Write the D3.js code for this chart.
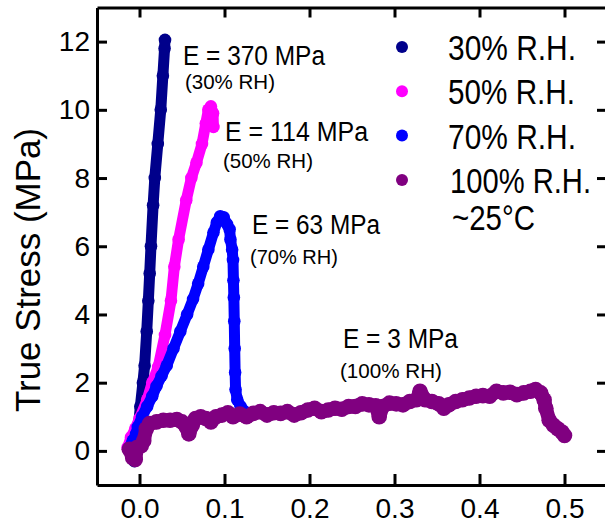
<!DOCTYPE html>
<html>
<head>
<meta charset="utf-8">
<script src="https://cdn.jsdelivr.net/npm/d3@7"></script>
<style>
body { margin: 0; background: #fff; }
text { font-family: "Liberation Sans", Arial, sans-serif; fill: #000; }
</style>
</head>
<body>
<div id="chart"></div>
<script>
// series names and colours
var series = ["30% R.H.", "50% R.H.", "70% R.H.", "100% R.H."];
var colors = ["#00008b", "#ff00ff", "#0000ff", "#800080"];

// true strain, true stress (MPa)
var rh30 = [[-0.006, -0.3], [-0.004, 0.2], [-0.001, 0.8], [0.001, 1.3], [0.004, 2.0], [0.006, 2.5],
    [0.0085, 3.5], [0.0104, 4.4], [0.012, 5.2], [0.0135, 6.0], [0.016, 7.2], [0.018, 8.0],
    [0.0215, 9.0], [0.025, 10.0], [0.0275, 11.0], [0.0295, 11.8], [0.030, 12.05]];

var rh50 = [[-0.014, 0.1], [-0.01, 0.4], [-0.005, 0.65], [0.0, 0.95], [0.009, 1.5], [0.015, 2.0],
    [0.022, 2.46], [0.030, 3.4], [0.037, 4.4], [0.041, 5.4], [0.046, 6.2], [0.055, 7.35],
    [0.061, 8.0], [0.067, 8.45], [0.0735, 9.0], [0.078, 9.6], [0.081, 10.0], [0.084, 10.1],
    [0.0865, 9.9], [0.087, 9.5]];

var rh70 = [[-0.012, 0.1], [-0.008, 0.3], [-0.004, 0.5], [-0.002, 0.7], [0.003, 1.0], [0.009, 1.3],
    [0.015, 1.6], [0.020, 1.9], [0.026, 2.2], [0.032, 2.5], [0.040, 3.0], [0.048, 3.5],
    [0.056, 4.0], [0.063, 4.45], [0.069, 4.9], [0.075, 5.4], [0.081, 5.9], [0.087, 6.4],
    [0.091, 6.7], [0.095, 6.88], [0.099, 6.85], [0.103, 6.65], [0.106, 6.5], [0.107, 6.2],
    [0.109, 5.9], [0.110, 5.6], [0.1105, 5.0], [0.111, 4.5], [0.1115, 3.8], [0.112, 3.0],
    [0.1125, 2.3], [0.113, 1.8], [0.115, 1.5], [0.119, 1.3], [0.124, 1.15]];

var rh100 = [[-0.012, 0.05], [-0.008, -0.2], [-0.005, -0.25], [-0.003, 0.1], [0.002, 0.15],
    [0.005, 0.3], [0.008, 0.65], [0.012, 0.8], [0.02, 0.85], [0.028, 0.9], [0.036, 0.9],
    [0.044, 0.92], [0.05, 0.85], [0.055, 0.7], [0.058, 0.5], [0.062, 0.75], [0.066, 0.95],
    [0.072, 1.0], [0.078, 0.95], [0.084, 0.85], [0.09, 1.0], [0.097, 1.05], [0.104, 1.12],
    [0.11, 1.0], [0.118, 1.08], [0.126, 1.0], [0.134, 1.1], [0.142, 1.15], [0.15, 1.05],
    [0.158, 1.12], [0.166, 1.1], [0.174, 1.15], [0.182, 1.05], [0.19, 1.12], [0.198, 1.2],
    [0.206, 1.25], [0.214, 1.15], [0.222, 1.2], [0.23, 1.25], [0.238, 1.22], [0.246, 1.3],
    [0.254, 1.3], [0.262, 1.38], [0.27, 1.35], [0.278, 1.32], [0.282, 1.0], [0.286, 1.3],
    [0.294, 1.4], [0.302, 1.38], [0.31, 1.35], [0.318, 1.45], [0.326, 1.5], [0.33, 1.75],
    [0.336, 1.5], [0.344, 1.45], [0.352, 1.38], [0.358, 1.25], [0.364, 1.35], [0.372, 1.45],
    [0.38, 1.5], [0.388, 1.55], [0.396, 1.6], [0.404, 1.62], [0.412, 1.6], [0.42, 1.75],
    [0.428, 1.7], [0.436, 1.72], [0.444, 1.65], [0.452, 1.7], [0.46, 1.75], [0.466, 1.8],
    [0.472, 1.7], [0.476, 1.5], [0.478, 1.25], [0.482, 0.9], [0.487, 0.75], [0.492, 0.65],
    [0.497, 0.55], [0.50, 0.45]];

var xTicks = [0, 0.1, 0.2, 0.3, 0.4, 0.5];
var yTicks = [0, 2, 4, 6, 8, 10, 12];

// modulus notes
var moduli = ["E = 370 MPa", "E = 114 MPa", "E = 63 MPa", "E = 3 MPa"];
var moduliRH = ["(30% RH)", "(50% RH)", "(70% RH)", "(100% RH)"];
var moduliAt = [[0.0512, 11.32], [0.1006, 9.09], [0.1324, 6.36], [0.2394, 3.02]];
var moduliRHAt = [[0.0535, 10.6], [0.0982, 8.3], [0.130, 5.48], [0.2359, 2.15]];
var moduliLen = [142, 143, 128, 115];
var moduliRHLen = [90, 90, 88, 102];

var width = 605, height = 523;
var svg = d3.select("#chart").append("svg")
    .attr("width", width).attr("height", height);

var x = d3.scaleLinear().domain([-0.05, 0.55]).range([97, 607]);
var y = d3.scaleLinear().domain([-1, 13]).range([485, 7.5]);

// curves: thick line plus the dots on it
var line = d3.line().x(d => x(d[0])).y(d => y(d[1]));
[rh30, rh50, rh70, rh100].forEach(function(data, i) {
    var w = i == 3 ? 14 : 11;
    svg.append("path")
        .attr("d", line(data))
        .attr("fill", "none")
        .attr("stroke", colors[i])
        .attr("stroke-width", w)
        .attr("stroke-linecap", "round")
        .attr("stroke-linejoin", "round");
    svg.append("g").selectAll("circle").data(data).join("circle")
        .attr("cx", d => x(d[0])).attr("cy", d => y(d[1]))
        .attr("r", w / 2 + 0.8)
        .attr("fill", colors[i]);
});

// axes, ticks pointing in
function styleAxis(g) {
    g.select(".domain").attr("stroke", "#000").attr("stroke-width", 3);
    g.selectAll(".tick line").attr("stroke", "#000").attr("stroke-width", 3);
    g.selectAll(".tick text").attr("font-size", 28)
        .attr("font-family", "'Liberation Sans', Arial, sans-serif");
}
svg.append("g").attr("transform", "translate(0,485)")
    .call(d3.axisBottom(x).tickValues(xTicks).tickFormat(d3.format(".1f"))
        .tickSizeInner(-11).tickSizeOuter(0).tickPadding(13))
    .call(styleAxis);
svg.append("g").attr("transform", "translate(0,7.5)")
    .call(d3.axisTop(x).tickValues(xTicks).tickFormat("")
        .tickSizeInner(-10).tickSizeOuter(0))
    .call(styleAxis);
svg.append("g").attr("transform", "translate(97,0)")
    .call(d3.axisLeft(y).tickValues(yTicks).tickFormat(d3.format("d"))
        .tickSizeInner(-10).tickSizeOuter(0).tickPadding(7))
    .call(styleAxis);
svg.append("g").attr("transform", "translate(607,0)")
    .call(d3.axisRight(y).tickValues(yTicks).tickFormat("")
        .tickSizeInner(-10).tickSizeOuter(0))
    .call(styleAxis);

svg.append("text")
    .attr("transform", "translate(40,270) rotate(-90)")
    .attr("text-anchor", "middle")
    .attr("font-size", 35)
    .attr("textLength", 284)
    .attr("lengthAdjust", "spacingAndGlyphs")
    .text("True Stress (MPa)");

// notes
moduli.forEach(function(t, i) {
    svg.append("text")
        .attr("x", x(moduliAt[i][0])).attr("y", y(moduliAt[i][1]))
        .attr("font-size", 27)
        .attr("textLength", moduliLen[i]).attr("lengthAdjust", "spacingAndGlyphs")
        .text(t);
    svg.append("text")
        .attr("x", x(moduliRHAt[i][0])).attr("y", y(moduliRHAt[i][1]))
        .attr("font-size", 21)
        .attr("textLength", moduliRHLen[i]).attr("lengthAdjust", "spacingAndGlyphs")
        .text(moduliRH[i]);
});

// legend
var legendLen = [128, 127, 128, 141];
series.forEach(function(name, i) {
    var ly = 47 + i * 44.3;
    svg.append("circle").attr("cx", 402).attr("cy", ly).attr("r", 6)
        .attr("fill", colors[i]);
    svg.append("text").attr("x", i == 3 ? 450 : 448).attr("y", ly + 13)
        .attr("font-size", 35)
        .attr("textLength", legendLen[i]).attr("lengthAdjust", "spacingAndGlyphs")
        .text(name);
});
svg.append("text").attr("x", 452).attr("y", 230)
    .attr("font-size", 35)
    .attr("textLength", 83).attr("lengthAdjust", "spacingAndGlyphs")
    .text("~25°C");
</script>
</body>
</html>
